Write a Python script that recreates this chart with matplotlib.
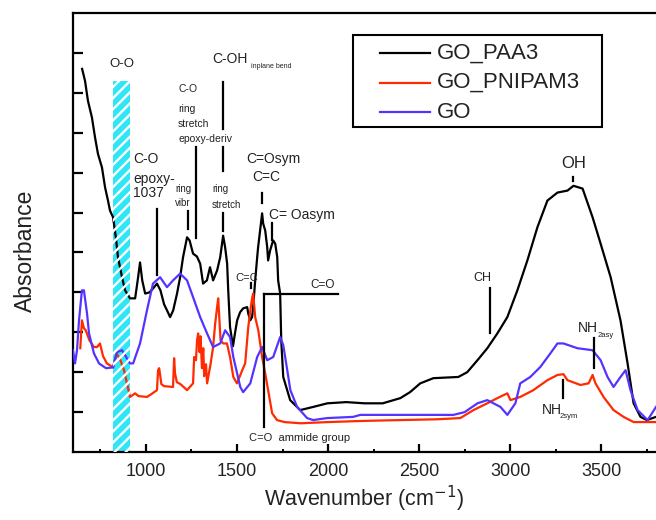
"""
FTIR spectra of GO, GO_PAA3 and GO_PNIPAM3 with band assignments.
"""

import matplotlib

matplotlib.use("Agg")
import matplotlib.pyplot as plt
from matplotlib.patches import Rectangle

plt.rcParams["font.family"] = ["Liberation Sans", "DejaVu Sans"]
plt.rcParams["hatch.linewidth"] = 1.7

# GO_PAA3 (black)
paa_wn = [650, 666, 682, 704, 721, 737, 759, 776, 792, 803, 820, 835, 847, 869, 886, 913,
          941, 955, 968, 980, 996, 1020, 1040, 1061, 1080, 1100, 1116, 1133, 1150, 1171,
          1188, 1204, 1226, 1240, 1259, 1280, 1298, 1314, 1335, 1352, 1369, 1391, 1408,
          1424, 1435, 1446, 1452, 1462, 1478, 1490, 1501, 1517, 1534, 1556, 1562, 1573,
          1583, 1589, 1600, 1611, 1616, 1627, 1638, 1644, 1655, 1666, 1671, 1682, 1693,
          1699, 1710, 1721, 1726, 1737, 1743, 1754, 1792, 1847, 1919, 1996, 2100, 2200,
          2300, 2397, 2450, 2506, 2578, 2715, 2764, 2820, 2874, 2929, 2984, 3039, 3094,
          3149, 3204, 3259, 3314, 3347, 3397, 3452, 3496, 3551, 3605, 3644, 3677, 3715,
          3750, 3800]
paa_abs = [9.6, 9.3, 8.8, 8.38, 7.88, 7.47, 7.13, 6.63, 6.3, 6.05, 5.88, 5.38, 4.88, 4.38,
           4.05, 3.85, 3.85, 4.3, 4.75, 4.3, 3.97, 4.0, 4.1, 4.22, 4.05, 3.7, 3.55, 3.38,
           3.55, 3.97, 4.38, 4.88, 5.38, 5.3, 4.97, 4.9, 4.72, 4.22, 4.3, 4.63, 4.3, 4.55,
           4.88, 5.42, 5.13, 4.72, 4.05, 3.13, 2.65, 3.0, 3.3, 3.5, 3.6, 3.63, 3.47, 3.3,
           3.38, 3.63, 4.3, 4.88, 5.13, 5.55, 5.98, 5.72, 5.55, 5.13, 4.8, 5.05, 5.22, 5.3,
           5.22, 4.88, 4.3, 3.97, 2.8, 1.88, 1.3, 1.05, 1.13, 1.22, 1.25, 1.22, 1.22, 1.35,
           1.5, 1.72, 1.85, 1.88, 2.0, 2.3, 2.6, 2.97, 3.38, 4.05, 4.8, 5.63, 6.3, 6.5,
           6.55, 6.67, 6.6, 5.88, 5.22, 4.38, 3.3, 2.22, 1.22, 0.88, 0.8, 0.88]

# GO_PNIPAM3 (red)
pnipam_wn = [640, 649, 660, 670, 690, 715, 732, 748, 765, 786, 820, 840, 860, 880, 913,
             941, 960, 1006, 1030, 1061, 1067, 1073, 1085, 1100, 1149, 1155, 1160, 1170,
             1190, 1226, 1259, 1265, 1275, 1281, 1287, 1295, 1300, 1308, 1315, 1320, 1330,
             1336, 1355, 1369, 1380, 1391, 1397, 1405, 1410, 1424, 1445, 1462, 1480, 1500,
             1529, 1545, 1562, 1575, 1584, 1589, 1600, 1617, 1638, 1655, 1671, 1693, 1720,
             1760, 1850, 2000, 2200, 2400, 2600, 2726, 2798, 2874, 2929, 2984, 3001, 3055,
             3127, 3204, 3259, 3292, 3314, 3385, 3430, 3452, 3468, 3512, 3567, 3622, 3677,
             3800]
pnipam_abs = [2.6, 3.3, 3.1, 3.05, 2.8, 2.63, 2.63, 2.72, 2.4, 2.22, 2.12, 2.47, 2.3, 2.05,
              1.38, 1.47, 1.4, 1.38, 1.45, 1.55, 2.05, 2.1, 1.7, 1.65, 1.63, 2.35, 1.97,
              1.75, 1.7, 1.55, 1.72, 2.38, 2.3, 2.8, 2.97, 2.5, 2.9, 2.1, 2.6, 1.9, 2.2,
              1.72, 2.2, 2.63, 3.2, 3.63, 3.85, 3.2, 2.8, 2.72, 2.72, 2.38, 1.88, 1.72, 2.05,
              2.22, 3.13, 3.6, 3.88, 3.97, 3.38, 3.05, 2.38, 1.97, 1.55, 0.97, 0.8, 0.75,
              0.72, 0.75, 0.78, 0.8, 0.82, 0.85, 1.05, 1.22, 1.35, 1.47, 1.3, 1.38, 1.55,
              1.8, 1.93, 1.95, 1.8, 1.68, 1.72, 1.93, 1.72, 1.38, 1.05, 0.88, 0.75, 0.75]

# GO (blue)
go_wn = [600, 611, 622, 633, 649, 660, 677, 688, 715, 743, 781, 820, 840, 869, 913, 930,
         968, 1006, 1039, 1078, 1116, 1149, 1188, 1226, 1259, 1298, 1336, 1369, 1408, 1435,
         1462, 1480, 1518, 1534, 1573, 1611, 1638, 1666, 1699, 1737, 1754, 1776, 1793, 1830,
         1885, 1918, 1995, 2138, 2177, 2400, 2688, 2750, 2820, 2874, 2946, 2984, 3028, 3055,
         3110, 3165, 3220, 3259, 3292, 3369, 3452, 3496, 3534, 3567, 3605, 3633, 3660, 3699,
         3754, 3800]
go_abs = [2.55, 2.22, 2.55, 3.3, 4.05, 4.05, 3.47, 2.97, 2.47, 2.22, 2.1, 2.12, 2.5, 2.55,
          2.22, 2.22, 2.72, 3.55, 4.22, 4.38, 4.13, 4.3, 4.47, 4.3, 3.88, 3.38, 2.97, 2.63,
          2.72, 3.05, 2.88, 2.38, 1.63, 1.5, 1.72, 2.38, 2.63, 2.3, 2.38, 2.88, 2.68, 2.05,
          1.55, 1.13, 0.85, 0.8, 0.85, 0.88, 0.93, 0.93, 0.93, 1.0, 1.22, 1.3, 1.13, 0.93,
          1.22, 1.72, 1.88, 2.13, 2.47, 2.72, 2.72, 2.6, 2.55, 2.3, 1.88, 1.63, 1.88, 2.05,
          1.55, 1.05, 0.8, 1.13]

series_labels = ["GO_PAA3", "GO_PNIPAM3", "GO"]
series_colors = ["black", "#ff2a00", "#5533ff"]
x_ticks = [1000, 1500, 2000, 2500, 3000, 3500]

TXT = "#222222"

fig = plt.figure(figsize=(6.56, 5.2), dpi=100)
ax = fig.add_axes([73 / 656, 68 / 520, 1 - 73 / 656, 439 / 520])

for wn, ab, col in zip([paa_wn, pnipam_wn, go_wn], [paa_abs, pnipam_abs, go_abs],
                       series_colors):
    ax.plot(wn, ab, color=col, lw=1.6, zorder=3)

# O-O band: cyan underneath, white hatch on top of the curves
ax.add_patch(Rectangle((820, 0), 93, 9.3, facecolor="#2ee6f5", edgecolor="none", zorder=1))
ax.add_patch(Rectangle((820, 0), 93, 9.3, facecolor="none", edgecolor="white",
                       hatch="///", lw=0, zorder=4))

ax.set_xlim(600, 3800)
ax.set_ylim(0, 11)
ax.set_xticks(x_ticks)
ax.set_xticks(range(750, 3800, 500), minor=True)
ax.set_yticks(range(1, 11))
ax.set_yticklabels([])
ax.tick_params(axis="both", which="major", direction="in", width=1.6,
               labelsize=13, colors="black", labelcolor=TXT)
ax.tick_params(axis="y", which="major", length=7)
ax.tick_params(axis="x", which="major", length=6, pad=8)
ax.tick_params(axis="x", which="minor", direction="in", length=2.5, width=1.4)
for side in ("left", "bottom", "top"):
    ax.spines[side].set_linewidth(1.6)
ax.spines["right"].set_visible(False)

ax.set_xlabel("Wavenumber (cm$^{-1}$)", fontsize=15.5, color=TXT, labelpad=3)
ax.set_ylabel("Absorbance", fontsize=16.5, color=TXT)
ax.yaxis.set_label_coords(-0.062, 0.458)


def px_to_axes(px, py):
    return (px - 73) / 583, (452 - py) / 439


# legend box drawn by hand to keep the wide inner margins of the original
x0, y0 = px_to_axes(353, 127)
x1, y1 = px_to_axes(602, 35)
ax.add_patch(Rectangle((x0, y0), x1 - x0, y1 - y0, transform=ax.transAxes,
                       facecolor="white", edgecolor="black", lw=1.5, zorder=6))
for i, (lab, col) in enumerate(zip(series_labels, series_colors)):
    py = 53 + 29.5 * i
    la, ya = px_to_axes(380, py)
    lb, _ = px_to_axes(430, py)
    tx, _ = px_to_axes(437, py)
    ax.plot([la, lb], [ya, ya], color=col, lw=1.6, transform=ax.transAxes, zorder=7)
    ax.text(tx, ya, lab, fontsize=16, va="center", ha="left", color=TXT,
            transform=ax.transAxes, zorder=7)

# band assignments: (text, x, y, size, ha)
labels = [
    ("O-O", 869, 9.73, 9.5, "center"),
    ("C-OH", 1364, 9.85, 10, "left"),
    ("inplane bend", 1578, 9.66, 5, "left"),
    ("C-O", 1177, 9.1, 7.5, "left"),
    ("ring", 1177, 8.6, 7.5, "left"),
    ("stretch", 1177, 8.23, 7.5, "left"),
    ("epoxy-deriv", 1177, 7.85, 7.5, "left"),
    ("ring", 1160, 6.58, 7, "left"),
    ("vibr", 1160, 6.25, 7, "left"),
    ("ring", 1364, 6.58, 7, "left"),
    ("stretch", 1364, 6.2, 7, "left"),
    ("C-O", 930, 7.33, 10, "left"),
    ("epoxy-", 930, 6.83, 10, "left"),
    ("1037", 930, 6.48, 10, "left"),
    ("C=Osym", 1551, 7.33, 10, "left"),
    ("C=C", 1584, 6.88, 10, "left"),
    ("C= Oasym", 1677, 5.93, 10, "left"),
    ("C=C", 1490, 4.35, 8, "left"),
    ("C=O", 1902, 4.18, 8.5, "left"),
    ("C=O  ammide group", 1567, 0.35, 8, "left"),
    ("OH", 3347, 7.23, 12, "center"),
    ("CH", 2847, 4.35, 9, "center"),
    ("NH", 3369, 3.1, 10, "left"),
    ("2asy", 3479, 2.93, 5.5, "left"),
    ("NH", 3171, 1.05, 10, "left"),
    ("2sym", 3270, 0.9, 5.5, "left"),
]
for txt, x, y, size, ha in labels:
    ax.text(x, y, txt, fontsize=size, ha=ha, va="center", color=TXT, zorder=5)

# marker lines: (x, y_low, y_high)
ticks = [
    (1424, 8.1, 9.28), (1424, 7.05, 7.65), (1276, 5.35, 7.65), (1232, 5.6, 6.03),
    (1424, 5.55, 5.98), (1062, 4.43, 6.1), (1638, 6.25, 6.5), (1693, 5.3, 5.73),
    (1578, 4.1, 4.23), (1649, 0.63, 3.95), (3347, 6.78, 6.88), (2891, 2.98, 4.1),
    (3457, 2.1, 2.85), (3287, 1.35, 1.8),
]
for x, ylo, yhi in ticks:
    ax.plot([x, x], [ylo, yhi], color="black", lw=1.6, zorder=5)
ax.plot([1649, 2056], [3.95, 3.95], color="black", lw=1.6, zorder=5)

fig.savefig("out.png", dpi=100)
